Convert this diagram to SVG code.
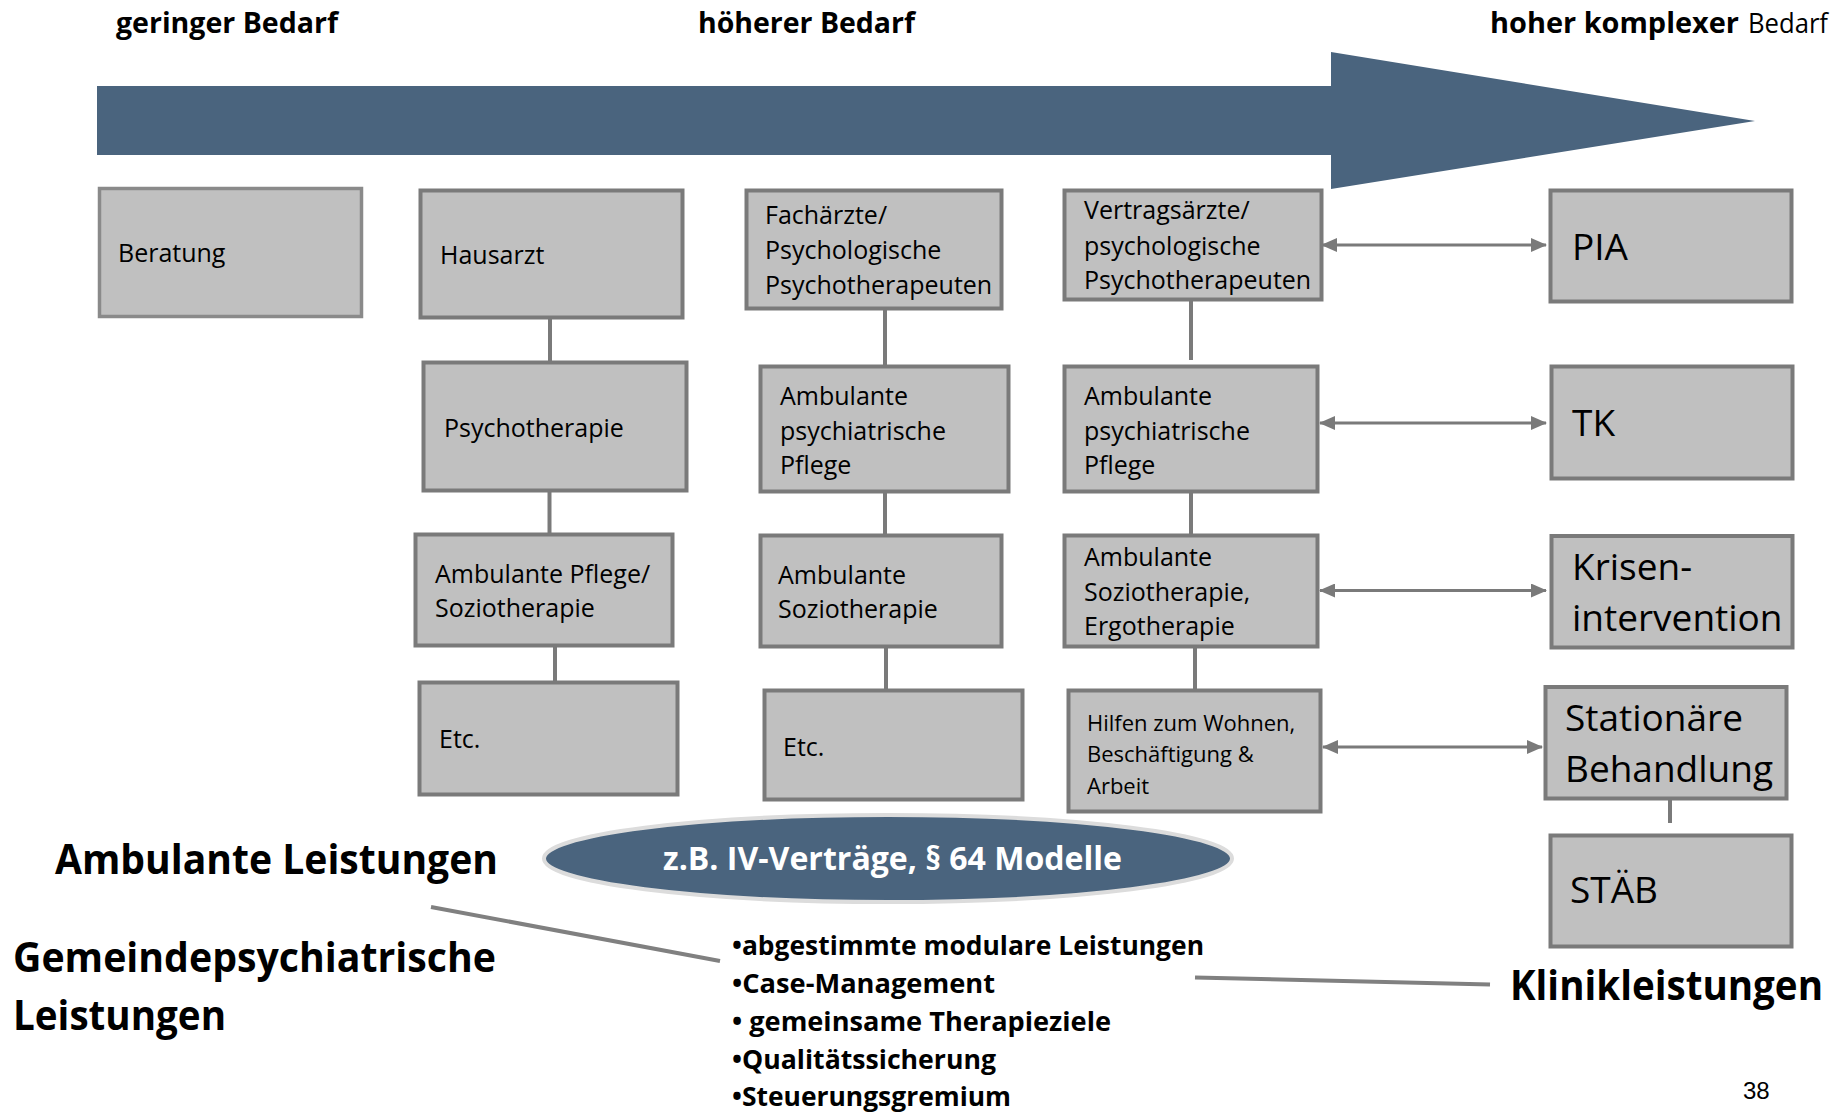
<svg xmlns="http://www.w3.org/2000/svg" width="1847" height="1112" viewBox="0 0 1847 1112">
<style>
.box{fill:#c0c0c0;stroke:#7a7a7a;stroke-width:4}
.t{font-family:"Open Sans","Liberation Sans",sans-serif;font-size:25px;fill:#000}
.ts{font-family:"Open Sans","Liberation Sans",sans-serif;font-size:22px;fill:#000}
.tl{font-family:"Open Sans","Liberation Sans",sans-serif;font-size:37px;fill:#000}
.hb{font-family:"Open Sans","Liberation Sans",sans-serif;font-size:28px;font-weight:bold;fill:#000}
.hr{font-family:"Open Sans","Liberation Sans",sans-serif;font-size:28px;fill:#000}
.big{font-family:"Open Sans","Liberation Sans",sans-serif;font-size:41px;font-weight:bold;fill:#000}
.bul{font-family:"Open Sans","Liberation Sans",sans-serif;font-size:27px;font-weight:bold;fill:#000}
.conn{stroke:#7a7a7a;stroke-width:4;fill:none}
.arr{stroke:#7a7a7a;stroke-width:3;fill:none;marker-start:url(#ah);marker-end:url(#ah)}
.lead{stroke:#808080;stroke-width:4;fill:none}
</style>
<defs>
<marker id="ah" markerUnits="userSpaceOnUse" markerWidth="16" markerHeight="14" refX="15" refY="7" orient="auto-start-reverse">
<path d="M0,0 L16,7 L0,14 z" fill="#7a7a7a"/>
</marker>
</defs>
<rect width="1847" height="1112" fill="#fff"/>

<g id="headers">
<text class="hb" x="116" y="33" textLength="222" lengthAdjust="spacingAndGlyphs">geringer Bedarf</text>
<text class="hb" x="698" y="33" textLength="217" lengthAdjust="spacingAndGlyphs">höherer Bedarf</text>
<text class="hb" x="1490" y="33" textLength="249" lengthAdjust="spacingAndGlyphs">hoher komplexer</text>
<text class="hr" x="1748" y="33" textLength="80" lengthAdjust="spacingAndGlyphs">Bedarf</text>
</g>

<g id="bedarf-arrow">
<polygon points="97,86 1331,86 1331,52 1755,121 1331,189 1331,155 97,155" fill="#4a647e"/>
</g>

<g id="connectors">
<line class="conn" x1="550" y1="318" x2="550" y2="362"/>
<line class="conn" x1="549.5" y1="491" x2="549.5" y2="534"/>
<line class="conn" x1="555" y1="646" x2="555" y2="682"/>
<line class="conn" x1="885" y1="309" x2="885" y2="366"/>
<line class="conn" x1="885" y1="492" x2="885" y2="535"/>
<line class="conn" x1="886" y1="647" x2="886" y2="690"/>
<line class="conn" x1="1191" y1="300" x2="1191" y2="360"/>
<line class="conn" x1="1191" y1="492" x2="1191" y2="535"/>
<line class="conn" x1="1195" y1="647" x2="1195" y2="690"/>
<line class="conn" x1="1670" y1="799" x2="1670" y2="823"/>
<line class="arr" x1="1322" y1="245" x2="1546" y2="245"/>
<line class="arr" x1="1320" y1="423" x2="1546" y2="423"/>
<line class="arr" x1="1320" y1="590.5" x2="1546" y2="590.5"/>
<line class="arr" x1="1323" y1="747" x2="1542" y2="747"/>
<line class="lead" x1="431" y1="907" x2="720" y2="961"/>
<line class="lead" x1="1195" y1="977.5" x2="1490" y2="984.5"/>
</g>

<g id="n-beratung"><rect class="box" x="99.5" y="188.5" width="262" height="128" style="stroke:#8a8a8a;stroke-width:3.5"/><text class="t" x="118" y="262">Beratung</text></g>

<g id="n-hausarzt"><rect class="box" x="420.5" y="190.5" width="262" height="127"/><text class="t" x="440" y="264">Hausarzt</text></g>
<g id="n-psychotherapie"><rect class="box" x="423.5" y="362.5" width="263" height="128"/><text class="t" x="444" y="437">Psychotherapie</text></g>
<g id="n-ambpflege"><rect class="box" x="415.5" y="534.5" width="257" height="111"/><text class="t" x="435" y="583">Ambulante Pflege/</text><text class="t" x="435" y="617">Soziotherapie</text></g>
<g id="n-etc1"><rect class="box" x="419.5" y="682.5" width="258" height="112"/><text class="t" x="439" y="748">Etc.</text></g>

<g id="n-fachaerzte"><rect class="box" x="746.5" y="190.5" width="255" height="118"/><text class="t" x="765" y="224">Fachärzte/</text><text class="t" x="765" y="259">Psychologische</text><text class="t" x="765" y="294">Psychotherapeuten</text></g>
<g id="n-app1"><rect class="box" x="760.5" y="366.5" width="248" height="125"/><text class="t" x="780" y="405">Ambulante</text><text class="t" x="780" y="440">psychiatrische</text><text class="t" x="780" y="474">Pflege</text></g>
<g id="n-sozio1"><rect class="box" x="760.5" y="535.5" width="241" height="111"/><text class="t" x="778" y="584">Ambulante</text><text class="t" x="778" y="618">Soziotherapie</text></g>
<g id="n-etc2"><rect class="box" x="764.5" y="690.5" width="258" height="109"/><text class="t" x="783" y="756">Etc.</text></g>

<g id="n-vertragsaerzte"><rect class="box" x="1064.5" y="190.5" width="257" height="109"/><text class="t" x="1084" y="219">Vertragsärzte/</text><text class="t" x="1084" y="255">psychologische</text><text class="t" x="1084" y="289">Psychotherapeuten</text></g>
<g id="n-app2"><rect class="box" x="1064.5" y="366.5" width="253" height="125"/><text class="t" x="1084" y="405">Ambulante</text><text class="t" x="1084" y="440">psychiatrische</text><text class="t" x="1084" y="474">Pflege</text></g>
<g id="n-sozio2"><rect class="box" x="1064.5" y="535.5" width="253" height="111"/><text class="t" x="1084" y="566">Ambulante</text><text class="t" x="1084" y="601">Soziotherapie,</text><text class="t" x="1084" y="635">Ergotherapie</text></g>
<g id="n-hilfen"><rect class="box" x="1068.5" y="690.5" width="252" height="121"/><text class="ts" x="1087" y="731">Hilfen zum Wohnen,</text><text class="ts" x="1087" y="762">Beschäftigung &amp;</text><text class="ts" x="1087" y="794">Arbeit</text></g>

<g id="n-pia"><rect class="box" x="1550.5" y="190.5" width="241" height="111"/><text class="tl" x="1572" y="260">PIA</text></g>
<g id="n-tk"><rect class="box" x="1551.5" y="366.5" width="241" height="112"/><text class="tl" x="1572" y="436">TK</text></g>
<g id="n-krisen"><rect class="box" x="1551.5" y="536" width="241" height="111.5"/><text class="tl" x="1572" y="580">Krisen-</text><text class="tl" x="1572" y="631">intervention</text></g>
<g id="n-stationaer"><rect class="box" x="1545.5" y="687" width="241" height="111.5"/><text class="tl" x="1565" y="731">Stationäre</text><text class="tl" x="1565" y="782">Behandlung</text></g>
<g id="n-staeb"><rect class="box" x="1550.5" y="835.5" width="241" height="111"/><text class="tl" x="1570" y="903">STÄB</text></g>

<g id="n-modelle">
<ellipse cx="888" cy="858.5" rx="344" ry="43.5" fill="#4a647e" stroke="#dcdcdc" stroke-width="4"/>
<text x="892.5" y="870" text-anchor="middle" textLength="459" lengthAdjust="spacingAndGlyphs" style="font-family:'Open Sans','Liberation Sans',sans-serif;font-size:32px;font-weight:bold;fill:#fff">z.B. IV-Verträge, § 64 Modelle</text>
</g>

<g id="labels">
<text class="big" x="55" y="874" textLength="443" lengthAdjust="spacingAndGlyphs">Ambulante Leistungen</text>
<text class="big" x="13" y="972" textLength="483" lengthAdjust="spacingAndGlyphs">Gemeindepsychiatrische</text>
<text class="big" x="13" y="1030" textLength="213" lengthAdjust="spacingAndGlyphs">Leistungen</text>
<text class="big" x="1510" y="1000" textLength="313" lengthAdjust="spacingAndGlyphs">Klinikleistungen</text>
</g>

<g id="bullets">
<text class="bul" x="732" y="955" textLength="472" lengthAdjust="spacingAndGlyphs">•abgestimmte modulare Leistungen</text>
<text class="bul" x="732" y="993" textLength="263" lengthAdjust="spacingAndGlyphs">•Case-Management</text>
<text class="bul" x="732" y="1031" textLength="379" lengthAdjust="spacingAndGlyphs">• gemeinsame Therapieziele</text>
<text class="bul" x="732" y="1069" textLength="264" lengthAdjust="spacingAndGlyphs">•Qualitätssicherung</text>
<text class="bul" x="732" y="1106" textLength="279" lengthAdjust="spacingAndGlyphs">•Steuerungsgremium</text>
</g>

<text x="1743" y="1099" style="font-family:'Liberation Sans',Arial,sans-serif;font-size:24px;fill:#000">38</text>
</svg>
